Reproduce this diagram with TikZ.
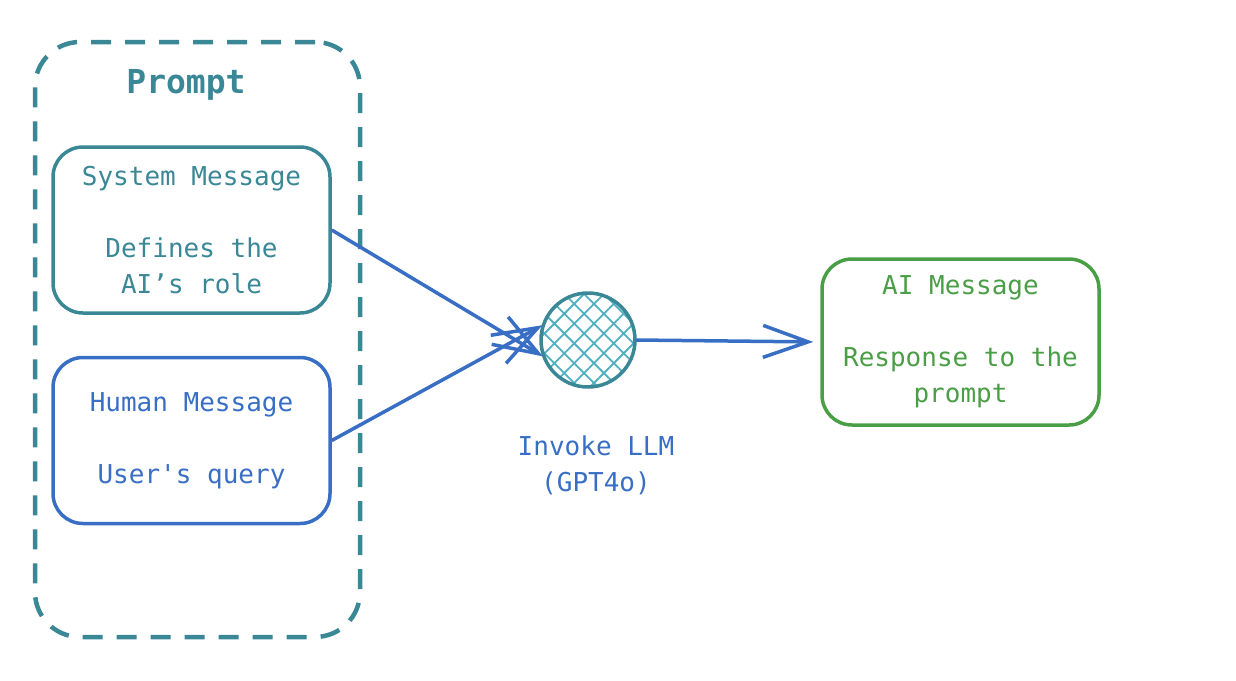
\documentclass[tikz,border=0pt]{standalone}
\usepackage{fontspec}
\setmonofont{DejaVu Sans Mono}
\usepackage{tikz}
\usetikzlibrary{arrows.meta,positioning,patterns.meta}

\definecolor{tealc}{RGB}{58,135,150}
\definecolor{hatchc}{RGB}{80,176,192}
\definecolor{bluec}{RGB}{56,110,196}
\definecolor{greenc}{RGB}{74,158,70}

\begin{document}
\begin{tikzpicture}[x=1pt,y=-1pt,align=center,
        font=\ttfamily\fontsize{26}{36}\selectfont,
        msgbox/.style={draw, line width=3.5pt, rounded corners=30pt,
            minimum width=277pt, minimum height=166pt, inner sep=0pt},
        flow/.style={draw=bluec, line width=3.5pt,
            -{Straight Barb[length=45pt,width=32pt,line width=3.5pt]}}]
        \useasboundingbox (0,0) rectangle (1236,680);
        % Place nodes
        \node [draw=tealc, line width=4.5pt, dash pattern=on 20pt off 14pt,
            rounded corners=45pt, minimum width=325pt, minimum height=595pt]
            (prompt) at (197.5,339.5) {};
        \node [text=tealc, font=\ttfamily\fontsize{33}{36}\selectfont\bfseries] (title) at (186,85) {Prompt};
        \node [msgbox, draw=tealc, text=tealc] (sys) at (191.5,230) {System Message\\\\Defines the\\AI’s role};
        \node [msgbox, draw=bluec, text=bluec, below=41pt of sys] (hum) {Human Message\\\\User's query};
        \node [circle, draw=tealc, line width=3.5pt, minimum size=94pt,
            pattern={Hatch[angle=45,distance=14pt,line width=1.8pt]}, pattern color=hatchc] (llm) at (588,340) {};
        \node [text=bluec] (invoke) at (596,465) {Invoke LLM\\(GPT4o)};
        \node [msgbox, draw=greenc, text=greenc] (ai) at (960.5,342) {AI Message\\\\Response to the\\prompt};

        % Draw edges
        \draw [flow] (sys.east) -- (llm.200);
        \draw [flow] (hum.east) -- (llm.162);
        \draw [flow, shorten >=7pt] (llm.east) -- (ai.west);
    \end{tikzpicture}
\end{document}
